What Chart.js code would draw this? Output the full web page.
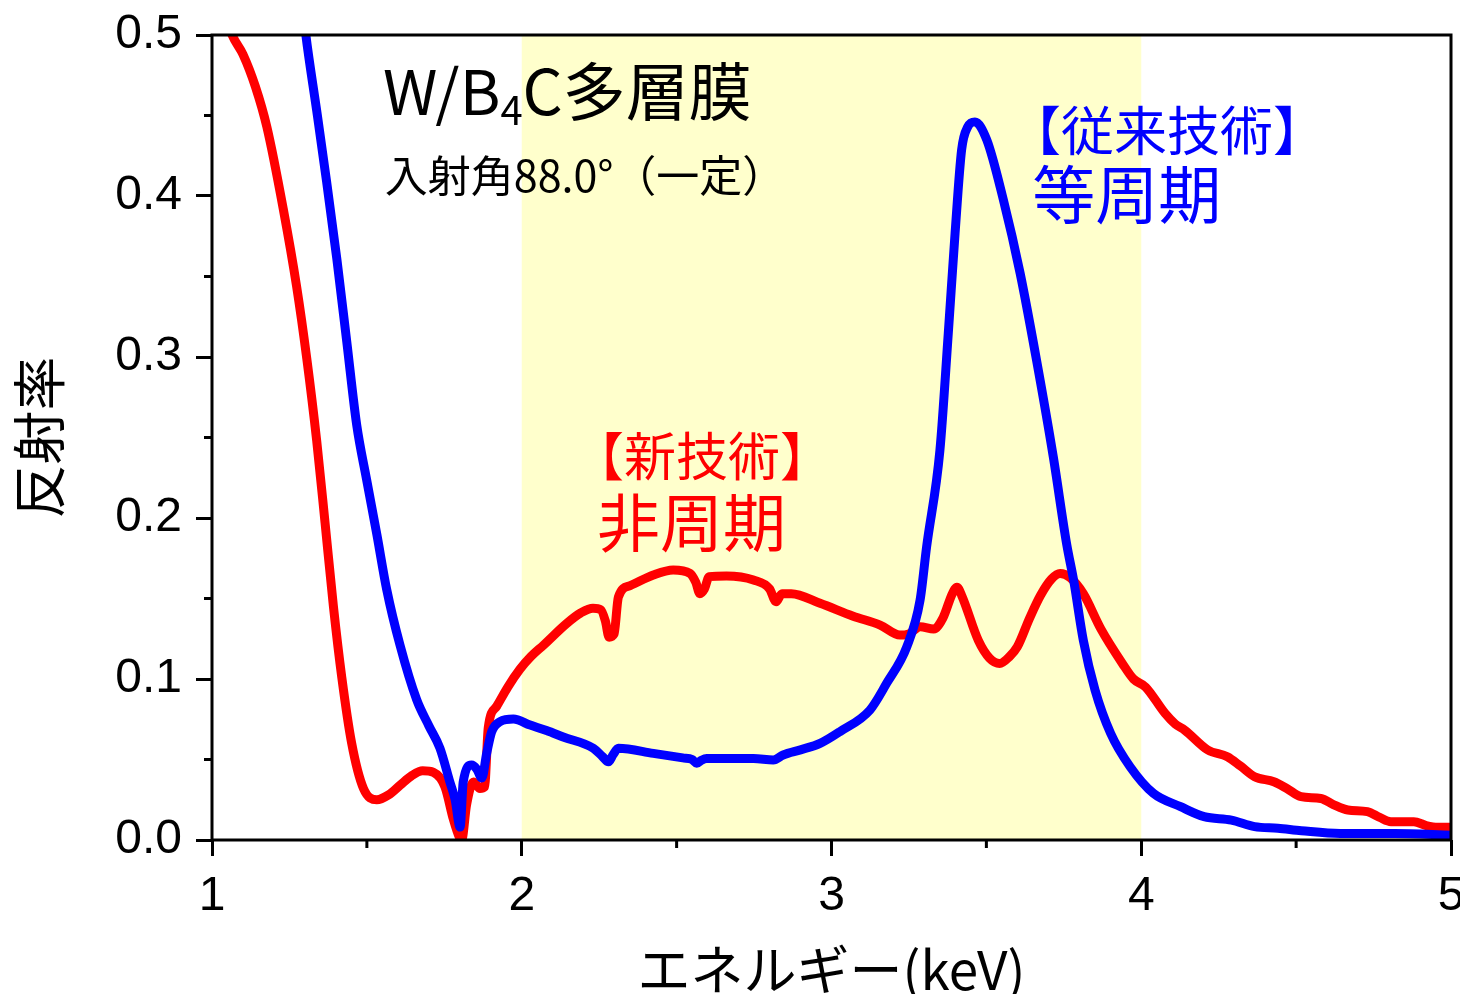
<!DOCTYPE html>
<html>
<head>
<meta charset="utf-8">
<script src="https://cdn.jsdelivr.net/npm/chart.js@4/dist/chart.umd.min.js"></script>
<style>
  html, body { margin: 0; padding: 0; background: #ffffff; overflow: hidden; }
  #wrap { width: 1460px; height: 994px; position: relative; }
</style>
</head>
<body>
<div id="wrap"><canvas id="c"></canvas></div>
<script>
// ---------------- data ----------------
const redEnergy = [1.03, 1.065, 1.10, 1.14, 1.177, 1.23, 1.273, 1.306, 1.338, 1.365, 1.392, 1.419, 1.451, 1.489, 1.532, 1.57, 1.607, 1.645, 1.68, 1.715, 1.752, 1.779, 1.798, 1.806, 1.822, 1.844, 1.865, 1.880, 1.892, 1.919, 1.955, 1.994, 2.03, 2.07, 2.145, 2.19, 2.23, 2.255, 2.27, 2.282, 2.298, 2.312, 2.35, 2.425, 2.489, 2.543, 2.562, 2.575, 2.59, 2.605, 2.661, 2.748, 2.80, 2.821, 2.84, 2.87, 2.963, 3.07, 3.157, 3.221, 3.25, 3.286, 3.33, 3.36, 3.39, 3.405, 3.42, 3.474, 3.51, 3.543, 3.575, 3.60, 3.64, 3.675, 3.71, 3.738, 3.77, 3.813, 3.87, 3.939, 3.975, 4.014, 4.077, 4.11, 4.14, 4.215, 4.278, 4.32, 4.366, 4.428, 4.47, 4.516, 4.58, 4.62, 4.667, 4.73, 4.77, 4.806, 4.88, 4.92, 4.957, 5.0];
const redReflect = [0.52, 0.50, 0.488, 0.468, 0.443, 0.392, 0.344, 0.299, 0.248, 0.197, 0.145, 0.101, 0.060, 0.032, 0.025, 0.028, 0.034, 0.040, 0.043, 0.042, 0.033, 0.013, 0.002, 0.0, 0.022, 0.036, 0.032, 0.033, 0.070, 0.083, 0.095, 0.106, 0.114, 0.121, 0.1345, 0.141, 0.144, 0.143, 0.136, 0.126, 0.128, 0.151, 0.158, 0.1646, 0.1677, 0.1656, 0.160, 0.153, 0.156, 0.1636, 0.164, 0.1615, 0.156, 0.148, 0.153, 0.153, 0.147, 0.139, 0.1335, 0.1273, 0.128, 0.1325, 0.131, 0.138, 0.153, 0.157, 0.152, 0.124, 0.113, 0.1097, 0.114, 0.120, 0.138, 0.152, 0.162, 0.1655, 0.163, 0.153, 0.131, 0.1097, 0.100, 0.095, 0.0786, 0.072, 0.0683, 0.0559, 0.0517, 0.046, 0.0393, 0.0362, 0.032, 0.0269, 0.0258, 0.022, 0.0186, 0.0176, 0.014, 0.0114, 0.0114, 0.009, 0.0079, 0.0079];

const blueEnergy = [1.28, 1.303, 1.338, 1.370, 1.403, 1.435, 1.467, 1.499, 1.532, 1.564, 1.607, 1.661, 1.70, 1.736, 1.768, 1.785, 1.801, 1.811, 1.838, 1.855, 1.871, 1.887, 1.903, 1.930, 1.973, 2.027, 2.08, 2.134, 2.231, 2.26, 2.28, 2.295, 2.312, 2.425, 2.52, 2.55, 2.565, 2.58, 2.597, 2.748, 2.812, 2.844, 2.90, 2.963, 3.027, 3.124, 3.178, 3.243, 3.286, 3.307, 3.35, 3.377, 3.399, 3.420, 3.44, 3.463, 3.501, 3.555, 3.609, 3.662, 3.716, 3.759, 3.782, 3.813, 3.851, 3.901, 3.964, 4.039, 4.127, 4.203, 4.291, 4.366, 4.441, 4.517, 4.642, 4.818, 5.0];
const blueReflect = [0.54, 0.50, 0.453, 0.409, 0.361, 0.3096, 0.258, 0.224, 0.190, 0.1556, 0.121, 0.087, 0.071, 0.057, 0.036, 0.025, 0.008, 0.036, 0.0466, 0.044, 0.0385, 0.054, 0.0673, 0.0735, 0.0751, 0.0714, 0.068, 0.064, 0.057, 0.052, 0.0486, 0.053, 0.057, 0.0538, 0.051, 0.050, 0.0476, 0.0495, 0.0506, 0.0506, 0.0497, 0.0528, 0.056, 0.060, 0.0673, 0.0807, 0.0973, 0.120, 0.149, 0.182, 0.242, 0.3147, 0.377, 0.4286, 0.443, 0.446, 0.435, 0.3975, 0.352, 0.298, 0.238, 0.184, 0.161, 0.124, 0.093, 0.0663, 0.0455, 0.029, 0.0207, 0.0145, 0.0124, 0.0083, 0.0073, 0.0058, 0.0041, 0.0041, 0.003];

const xTickValues = [1, 2, 3, 4, 5];
const xMinorTicks = [1.5, 2.5, 3.5, 4.5];
const yTickValues = [0.0, 0.1, 0.2, 0.3, 0.4, 0.5];
const yMinorTicks = [0.05, 0.15, 0.25, 0.35, 0.45];
const highlightBand = [2, 4];

const xTitle = 'エネルギー(keV)';
const yTitle = '反射率';

// annotation texts (anchored in data coordinates)
const annotations = [
  { parts: [['W/B', 62, 0], ['4', 40, 10], ['C多層膜', 63, 0]], x: 1.552, y: 0.4503, color: '#000000', base: 'alphabetic' },
  { parts: [['入射角88.0°（一定）', 43, 0]], x: 1.558, y: 0.4025, color: '#000000', base: 'alphabetic' },
  { parts: [['【従来技術】', 53, 0]], x: 3.570, y: 0.4405, color: '#0000FF', base: 'middle' },
  { parts: [['等周期', 63, 0]], x: 3.648, y: 0.401, color: '#0000FF', base: 'middle' },
  { parts: [['【新技術】', 52, 0]], x: 2.162, y: 0.2385, color: '#FF0000', base: 'middle' },
  { parts: [['非周期', 63, 0]], x: 2.243, y: 0.1975, color: '#FF0000', base: 'middle' }
];

const JP = '"Noto Sans CJK JP", "Noto Sans", sans-serif';
const NUM = '"Liberation Sans", Arial, sans-serif';

function toPoints(xs, ys) { return xs.map((x, i) => ({ x: x, y: ys[i] })); }

// ---------------- plugins ----------------
const bandPlugin = {
  id: 'band',
  beforeDatasetsDraw(chart) {
    const { ctx, chartArea, scales } = chart;
    const x0 = scales.x.getPixelForValue(highlightBand[0]);
    const x1 = scales.x.getPixelForValue(highlightBand[1]);
    ctx.save();
    ctx.fillStyle = '#FFFFCC';
    ctx.fillRect(x0, chartArea.top, x1 - x0, chartArea.bottom - chartArea.top);
    ctx.restore();
  }
};

const framePlugin = {
  id: 'frame',
  afterDatasetsDraw(chart) {
    const { ctx, chartArea, scales } = chart;
    ctx.save();
    ctx.strokeStyle = '#000000';
    ctx.lineWidth = 3;
    ctx.strokeRect(chartArea.left, chartArea.top, chartArea.right - chartArea.left, chartArea.bottom - chartArea.top);
    ctx.beginPath();
    xMinorTicks.forEach(v => {
      const px = scales.x.getPixelForValue(v);
      ctx.moveTo(px, chartArea.bottom);
      ctx.lineTo(px, chartArea.bottom + 8);
    });
    yMinorTicks.forEach(v => {
      const py = scales.y.getPixelForValue(v);
      ctx.moveTo(chartArea.left - 8, py);
      ctx.lineTo(chartArea.left, py);
    });
    ctx.stroke();
    ctx.restore();
  }
};

const textPlugin = {
  id: 'texts',
  afterDatasetsDraw(chart) {
    const { ctx, scales } = chart;
    ctx.save();
    annotations.forEach(a => {
      let px = scales.x.getPixelForValue(a.x);
      const py = scales.y.getPixelForValue(a.y);
      ctx.fillStyle = a.color;
      ctx.textAlign = 'left';
      ctx.textBaseline = a.base;
      a.parts.forEach(p => {
        ctx.font = p[1] + 'px ' + JP;
        ctx.fillText(p[0], px, py + p[2]);
        px += ctx.measureText(p[0]).width;
      });
    });
    ctx.restore();
  }
};

// ---------------- chart ----------------
new Chart(document.getElementById('c'), {
  type: 'line',
  data: {
    datasets: [
      {
        label: '等周期',
        data: toPoints(blueEnergy, blueReflect),
        borderColor: '#0000FF',
        borderWidth: 9,
        pointRadius: 0,
        cubicInterpolationMode: 'monotone',
        borderJoinStyle: 'round',
        borderCapStyle: 'round',
        clip: 0,
        order: 0
      },
      {
        label: '非周期',
        data: toPoints(redEnergy, redReflect),
        borderColor: '#FF0000',
        borderWidth: 9,
        pointRadius: 0,
        cubicInterpolationMode: 'monotone',
        borderJoinStyle: 'round',
        borderCapStyle: 'round',
        clip: 0,
        order: 1
      }
    ]
  },
  options: {
    responsive: true,
    maintainAspectRatio: false,
    animation: false,
    layout: { padding: { top: 35, right: 9, bottom: 0, left: 0 } },
    plugins: { legend: { display: false }, tooltip: { enabled: false } },
    scales: {
      x: {
        type: 'linear',
        min: 1, max: 5,
        afterBuildTicks(scale) { scale.ticks = xTickValues.map(v => ({ value: v })); },
        afterFit(scale) { scale.height = 154; scale.paddingLeft = 0; scale.paddingRight = 0; },
        border: { display: false },
        grid: { drawOnChartArea: false, drawTicks: true, tickLength: 16, lineWidth: 3, color: '#000000' },
        ticks: {
          autoSkip: false, maxRotation: 0, padding: 12, color: '#000000',
          font: { family: NUM, size: 48 },
          callback: v => String(v)
        },
        title: {
          display: true, text: xTitle, color: '#000000',
          font: { family: JP, size: 53, lineHeight: 1 },
          padding: { top: 0, bottom: -2 }
        }
      },
      y: {
        type: 'linear',
        min: 0, max: 0.5,
        afterBuildTicks(scale) { scale.ticks = yTickValues.map(v => ({ value: v })); },
        afterFit(scale) { scale.width = 212; scale.paddingTop = 0; scale.paddingBottom = 0; },
        border: { display: false },
        grid: { drawOnChartArea: false, drawTicks: true, tickLength: 16, lineWidth: 3, color: '#000000' },
        ticks: {
          autoSkip: false, padding: 14, color: '#000000',
          font: { family: NUM, size: 48 },
          callback: v => Number(v).toFixed(1)
        },
        title: {
          display: true, text: yTitle, color: '#000000',
          font: { family: JP, size: 54, lineHeight: 1 },
          padding: { top: 12, bottom: 0 }
        }
      }
    }
  },
  plugins: [bandPlugin, framePlugin, textPlugin]
});
</script>
</body>
</html>
